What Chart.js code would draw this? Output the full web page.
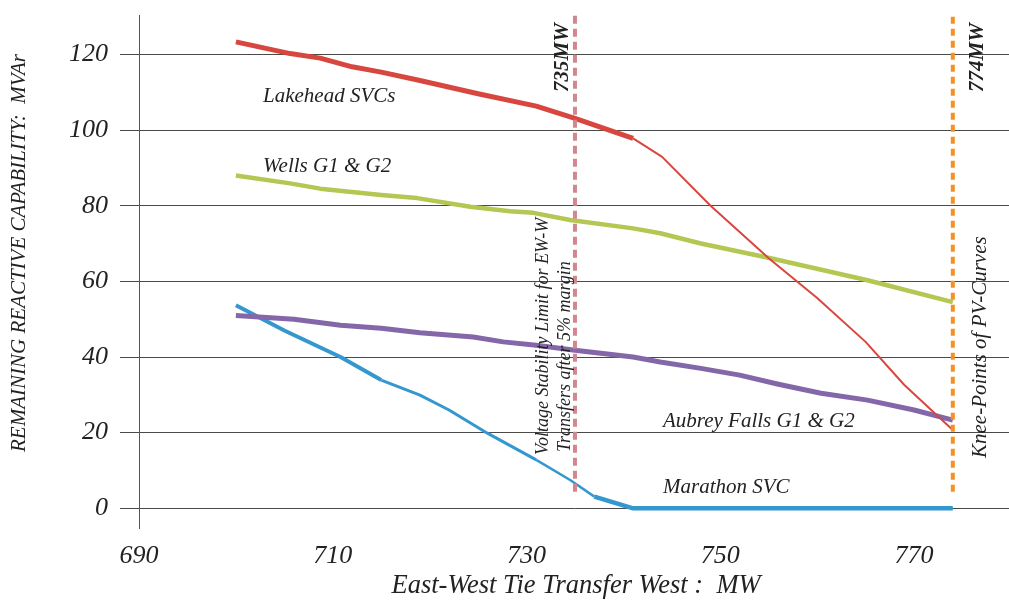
<!DOCTYPE html>
<html>
<head>
<meta charset="utf-8">
<script src="https://cdn.jsdelivr.net/npm/chart.js@4/dist/chart.umd.min.js"></script>
<style>
  html, body { margin: 0; padding: 0; background: #fff; }
  canvas { display: block; }
</style>
</head>
<body>
<canvas id="chart" width="1009" height="603"></canvas>
<script>
// East-West tie transfer (MW) vs remaining reactive capability (MVAr)
const xTicks = [690, 710, 730, 750, 770];
const yTicks = [0, 20, 40, 60, 80, 100, 120];

const lakeheadMW   = [700, 705.6, 708.7, 712, 715, 719, 725, 731, 735, 741, 744, 749, 755, 760, 765, 769, 774];
const lakeheadMVAr = [123.3, 120.2, 119, 116.7, 115.3, 113.1, 109.6, 106.3, 103.1, 97.8, 92.9, 80, 66.1, 55.6, 44, 32.6, 20.7];

const wellsMW   = [700, 705.6, 708.7, 715, 718.7, 724.2, 728.3, 730.7, 734.5, 741, 743.8, 748, 755.2, 765.2, 774];
const wellsMVAr = [88, 85.9, 84.5, 82.8, 82, 79.7, 78.5, 78.1, 76.2, 74, 72.7, 70, 66.1, 60.3, 54.5];

const aubreyMW   = [700, 706, 710.8, 715, 719, 724.5, 727.6, 731, 735, 741, 743.8, 748, 752, 756, 760.4, 765.2, 770, 774];
const aubreyMVAr = [51, 50, 48.4, 47.6, 46.4, 45.3, 44, 43.1, 41.8, 40, 38.7, 37, 35.2, 32.8, 30.4, 28.6, 26, 23.3];

const marathonMW   = [700, 705, 710.8, 715, 719, 722, 726, 731, 734.5, 737, 741, 774];
const marathonMVAr = [53.7, 47, 40, 33.9, 29.9, 26, 19.8, 12.8, 7.5, 3.1, 0, 0];

// Vertical marker lines: voltage stability limit and PV-curve knee points
const stabilityLimitMW = 735;
const kneePointMW = 774;
const markerSpan = [4.4, 130.4];

const pts = (xs, ys) => xs.map((x, i) => ({ x: x, y: ys[i] }));
const vline = (mw) => markerSpan.map(v => ({ x: mw, y: v }));

const serif = '"Liberation Serif", "Times New Roman", serif';
const textColor = '#222';

// Free text drawn on top of the plot: axis titles, curve names, marker notes
const notesPlugin = {
  id: 'notes',
  afterDraw(chart) {
    const ctx = chart.ctx;
    ctx.save();
    ctx.fillStyle = textColor;
    ctx.textBaseline = 'alphabetic';

    const put = (txt, x, y, font, align) => {
      ctx.font = font;
      ctx.textAlign = align || 'left';
      ctx.fillText(txt, x, y);
    };
    const putUp = (txt, x, y, font, align) => {
      ctx.save();
      ctx.translate(x, y);
      ctx.rotate(-Math.PI / 2);
      ctx.font = font;
      ctx.textAlign = align || 'left';
      ctx.fillText(txt, 0, 0);
      ctx.restore();
    };

    const lbl = 'italic 21px ' + serif;
    put('Lakehead SVCs', 263, 102, lbl);
    put('Wells G1 & G2', 263, 172, lbl);
    put('Aubrey Falls G1 & G2', 663, 427, lbl);
    put('Marathon SVC', 663, 493, lbl);

    put('East-West Tie Transfer West :  MW', 576, 593, 'italic 26.5px ' + serif, 'center');
    putUp('REMAINING REACTIVE CAPABILITY:  MVAr', 25, 253, 'italic 21px ' + serif, 'center');

    putUp('735MW', 568, 92, 'italic bold 21px ' + serif);
    putUp('774MW', 983, 92, 'italic bold 21px ' + serif);

    putUp('Voltage Stability Limit for EW-W', 548, 455, 'italic 18px ' + serif);
    putUp('Transfers after 5% margin', 570, 452, 'italic 18px ' + serif);
    putUp('Knee-Points of PV-Curves', 986, 458, 'italic 21px ' + serif);

    ctx.restore();
  }
};

const widthBefore = (limits) => (seg) => {
  const x0 = seg.p0.parsed.x;
  for (const [lim, w] of limits) if (x0 < lim) return w;
  return limits[limits.length - 1][1];
};

new Chart(document.getElementById('chart'), {
  type: 'line',
  data: {
    datasets: [
      {
        data: vline(stabilityLimitMW),
        borderColor: '#d4868d',
        borderWidth: 4,
        borderDash: [8, 5],
        borderCapStyle: 'butt'
      },
      {
        data: vline(kneePointMW),
        borderColor: '#f7901e',
        borderWidth: 4,
        borderDash: [7, 5],
        borderCapStyle: 'butt'
      },
      {
        label: 'Lakehead SVCs',
        data: pts(lakeheadMW, lakeheadMVAr),
        borderColor: '#d7473f',
        borderWidth: 5,
        segment: { borderWidth: widthBefore([[741, 5], [Infinity, 2]]) }
      },
      {
        label: 'Wells G1 & G2',
        data: pts(wellsMW, wellsMVAr),
        borderColor: '#b4c753',
        borderWidth: 4.5
      },
      {
        label: 'Aubrey Falls G1 & G2',
        data: pts(aubreyMW, aubreyMVAr),
        borderColor: '#8467a9',
        borderWidth: 5
      },
      {
        label: 'Marathon SVC',
        data: pts(marathonMW, marathonMVAr),
        borderColor: '#3498cf',
        borderWidth: 4,
        segment: { borderWidth: widthBefore([[715, 4], [731, 3], [737, 2.5], [Infinity, 4.5]]) }
      }
    ]
  },
  options: {
    responsive: false,
    devicePixelRatio: 1,
    animation: false,
    elements: {
      point: { radius: 0, hoverRadius: 0 },
      line: { tension: 0, fill: false, borderJoinStyle: 'round', borderCapStyle: 'butt' }
    },
    layout: { padding: { top: 15, left: 0, right: 0, bottom: 0 } },
    plugins: { legend: { display: false }, tooltip: { enabled: false } },
    scales: {
      x: {
        type: 'linear',
        min: 690,
        max: 779.8,
        afterBuildTicks(scale) { scale.ticks = xTicks.map(v => ({ value: v })); },
        afterFit(scale) {
          scale.height = 75;
          scale.paddingLeft = 0;
          scale.paddingRight = 0;
        },
        grid: { display: false, drawTicks: false },
        border: { display: false },
        ticks: {
          padding: 13,
          maxRotation: 0,
          color: textColor,
          font: { family: serif, style: 'italic', size: 26 }
        }
      },
      y: {
        type: 'linear',
        min: -5.2,
        max: 130.4,
        afterBuildTicks(scale) { scale.ticks = yTicks.map(v => ({ value: v })); },
        afterFit(scale) {
          scale.width = 139;
          scale.paddingTop = 0;
          scale.paddingBottom = 0;
        },
        grid: { color: '#4a4a4a', lineWidth: 1, drawTicks: true, tickLength: 19 },
        border: { display: true, color: '#555', width: 1 },
        ticks: {
          padding: 12,
          color: textColor,
          font: { family: serif, style: 'italic', size: 26 }
        }
      }
    }
  },
  plugins: [notesPlugin]
});
</script>
</body>
</html>
